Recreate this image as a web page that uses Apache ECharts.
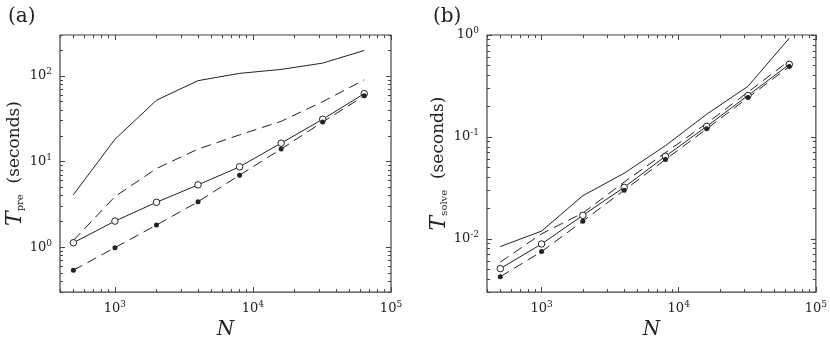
<!DOCTYPE html>
<html>
<head>
<meta charset="utf-8">
<script src="https://cdn.jsdelivr.net/npm/echarts@6/dist/echarts.min.js"></script>
<style>
  html, body { margin: 0; padding: 0; background: #fff; }
  #chart { width: 830px; height: 345px; }
</style>
</head>
<body>
<div id="chart"></div>
<script>
  // problem sizes, shared by both panels
  var N = [500, 1000, 2000, 4000, 8000, 16000, 32000, 64000];

  // (a) preprocessing time
  var preSolid  = [4.1, 18.2, 52, 88, 107, 119, 141, 198];
  var preDashed = [1.2, 3.9, 8.3, 14, 20.5, 29.5, 50, 90];
  var preCircle = [1.13, 2.02, 3.35, 5.35, 8.7, 16.4, 31.2, 62];
  var preDot    = [0.54, 0.99, 1.82, 3.4, 6.95, 14, 29, 58.6];

  // (b) solve time
  var solveSolid  = [0.0084, 0.0119, 0.0265, 0.044, 0.082, 0.167, 0.314, 0.93];
  var solveDashed = [0.0059, 0.0112, 0.0179, 0.036, 0.070, 0.136, 0.275, 0.56];
  var solveCircle = [0.0051, 0.0089, 0.017, 0.032, 0.0645, 0.127, 0.255, 0.515];
  var solveDot    = [0.00425, 0.0075, 0.0149, 0.030, 0.060, 0.12, 0.243, 0.49];

  // tick labels (powers of ten)
  var xMajor  = [1e3, 1e4, 1e5];
  var yMajorA = [1, 10, 100];
  var yMajorB = [0.01, 0.1, 1];

  var serif = 'DejaVu Serif';
  var ink = '#222';

  // 2..9 times each power of ten, inside [lo, hi]
  function minorTicks(lo, hi) {
    var out = [];
    for (var d = Math.floor(Math.log10(lo)); d <= Math.ceil(Math.log10(hi)); d++) {
      for (var k = 2; k <= 9; k++) {
        var v = k * Math.pow(10, d);
        if (v >= lo * 0.999 && v <= hi * 1.001) out.push(v);
      }
    }
    return out;
  }

  function pow10(v) {
    var e = Math.round(Math.log10(v));
    return '{b|10}{s|' + e + '}';
  }

  var labelRich = {
    b: { fontFamily: serif, fontSize: 13, color: ink },
    s: { fontFamily: serif, fontSize: 9, color: ink, padding: [0, 0, 8, 0] }
  };

  function axisSet(dim, g, min, max, majors, label) {
    var sides = dim === 'x' ? ['bottom', 'top'] : ['left', 'right'];
    var minors = minorTicks(min, max);
    var list = [];
    sides.forEach(function (pos, si) {
      [majors, minors].forEach(function (ticks, ti) {
        var ax = {
          type: 'log', logBase: 10, gridIndex: g, min: min, max: max, position: pos,
          axisLine: { show: false },
          splitLine: { show: false },
          axisTick: { inside: true, length: ti === 0 ? 5 : 3, customValues: ticks,
                      lineStyle: { color: '#444', width: 1 } },
          axisLabel: { show: false }
        };
        if (si === 0 && ti === 0) {
          ax.axisLabel = { show: true, customValues: majors, formatter: pow10,
                           rich: labelRich, margin: 8 };
          ax.name = label.text;
          ax.nameLocation = 'middle';
          ax.nameGap = label.gap;
          ax.nameRotate = label.rotate;
          ax.nameTextStyle = label.style;
        }
        list.push(ax);
      });
    });
    return list;
  }

  var xName = {
    text: 'N', gap: 26, rotate: 0,
    style: { fontFamily: serif, fontStyle: 'italic', fontSize: 20, color: ink }
  };
  function yName(sub, gap) {
    return {
      text: '{t|T}{p|' + sub + '}{u|  (seconds)}', gap: gap, rotate: 90,
      style: {
        rich: {
          t: { fontFamily: serif, fontStyle: 'italic', fontSize: 22, color: ink },
          p: { fontFamily: serif, fontSize: 10, color: ink, padding: [12, 0, 0, 0] },
          u: { fontFamily: serif, fontSize: 17, color: ink }
        }
      }
    };
  }

  var xAxes = axisSet('x', 0, 400, 1e5, xMajor, xName)
    .concat(axisSet('x', 1, 400, 1e5, xMajor, xName));
  var yAxes = axisSet('y', 0, 0.3, 300, yMajorA, yName('pre', 31))
    .concat(axisSet('y', 1, 0.003, 1, yMajorB, yName('solve', 36)));

  function pairs(ys) {
    return N.map(function (n, i) { return [n, ys[i]]; });
  }

  // marker: 'open' = hollow circle, 'dot' = small filled circle
  function curve(ys, g, dashed, marker) {
    var open = marker === 'open';
    return {
      type: 'line',
      xAxisIndex: g * 4, yAxisIndex: g * 4,
      data: pairs(ys),
      symbol: marker ? 'circle' : 'none',
      symbolSize: open ? 6.5 : 5,
      showSymbol: !!marker,
      itemStyle: open
        ? { color: '#fff', borderColor: ink, borderWidth: 1 }
        : { color: ink, borderWidth: 0 },
      lineStyle: { color: ink, width: 1, type: dashed ? [10, 6] : 'solid' },
      silent: true
    };
  }

  var myChart = echarts.init(document.getElementById('chart'));
  var option = {
    animation: false,
    backgroundColor: '#fff',
    title: [
      { text: '(a)', left: 3, top: 2, textStyle: { fontFamily: serif, fontWeight: 'normal', fontSize: 20, color: ink } },
      { text: '(b)', left: 428, top: 2, textStyle: { fontFamily: serif, fontWeight: 'normal', fontSize: 20, color: ink } }
    ],
    grid: [
      { left: 60, right: 439, top: 35, bottom: 49, show: true, borderColor: '#444', borderWidth: 1.2 },
      { left: 487, right: 13, top: 35, bottom: 49, show: true, borderColor: '#444', borderWidth: 1.2 }
    ],
    xAxis: xAxes,
    yAxis: yAxes,
    series: [
      curve(preSolid, 0, false),
      curve(preDashed, 0, true),
      curve(preCircle, 0, false, 'open'),
      curve(preDot, 0, true, 'dot'),
      curve(solveSolid, 1, false),
      curve(solveDashed, 1, true),
      curve(solveCircle, 1, false, 'open'),
      curve(solveDot, 1, true, 'dot')
    ]
  };
  myChart.setOption(option);
  window.addEventListener('resize', function () { myChart.resize(); });
</script>
</body>
</html>
